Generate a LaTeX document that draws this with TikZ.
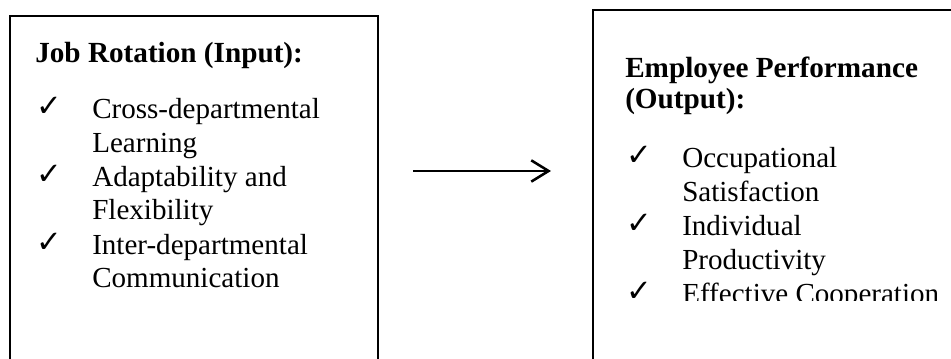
\documentclass[tikz,border=0pt]{standalone}
\usepackage{fontspec}
\setmainfont{Liberation Serif}
\newfontfamily\tickfont{DejaVu Sans}
\usetikzlibrary{arrows.meta}

\begin{document}
\begin{tikzpicture}[x=0.75pt,y=0.75pt,
  box/.style={line width=1.4pt},
  head/.style={anchor=base west,inner sep=0pt,font=\fontsize{21.9}{25}\selectfont\bfseries},
  item/.style={anchor=base west,inner sep=0pt,font=\fontsize{21.8}{25}\selectfont},
  tick/.style={anchor=base west,inner sep=0pt,font=\fontsize{23}{25}\tickfont}]
\useasboundingbox (0,0) rectangle (951,359);
% input box
\draw[box] (10,-20) -- (10,343) -- (378,343) -- (378,-20);
\node[head] (inhead) at (35,296) {Job Rotation (Input):};
\node[tick] (ck1) at (36,242) {✓};
\node[item] (in1a) at (92,240) {Cross-departmental};
\node[item] (in1b) at (92,206) {Learning};
\node[tick] (ck2) at (36,174) {✓};
\node[item] (in2a) at (92,172) {Adaptability and};
\node[item] (in2b) at (92,139) {Flexibility};
\node[tick] (ck3) at (36,106) {✓};
\node[item] (in3a) at (92,104) {Inter-departmental};
\node[item] (in3b) at (92,71) {Communication};
% output box
\draw[box] (593,-20) -- (593,349) -- (970,349);
\node[head] (outhead) at (625,281) {Employee Performance};
\node[head] (outhead2) at (625,250) {(Output):};
\node[tick] (ck4) at (626,193) {✓};
\node[item] (out1a) at (682,191) {Occupational};
\node[item] (out1b) at (682,157) {Satisfaction};
\node[tick] (ck5) at (626,125) {✓};
\node[item] (out2a) at (682,123) {Individual};
\node[item] (out2b) at (682,89) {Productivity};
\begin{scope}
\clip (600,58) rectangle (951,80);
\node[tick] (ck6) at (626,57) {✓};
\node[item] (out3a) at (682,55) {Effective Cooperation};
\end{scope}
% arrow
\coordinate (from) at (413,188);
\coordinate (to) at (551,188);
\draw[line width=1.9pt,-{Straight Barb[length=13pt,width=16pt]}] (from) -- (to);
\end{tikzpicture}
\end{document}
